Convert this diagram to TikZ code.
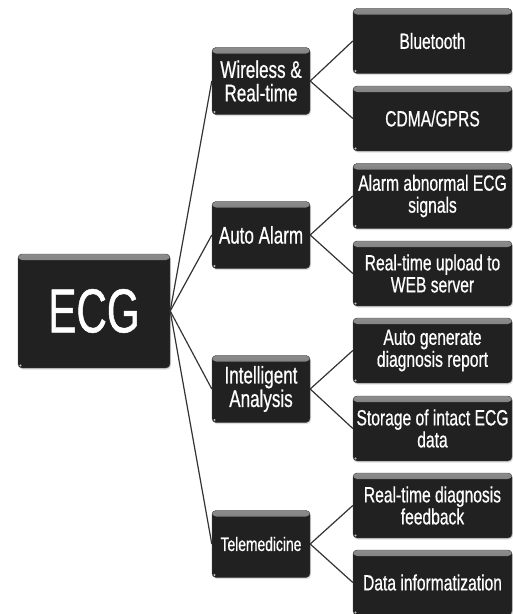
\documentclass[tikz,border=0pt]{standalone}
\usepackage{fontspec}
\setmainfont{Liberation Sans}[FakeStretch=0.71, FakeBold=0.6]
\newfontfamily\ecgfont{Liberation Sans}[FakeStretch=0.68, FakeBold=0.8]
\usetikzlibrary{shadows}
\tikzset{
  darkbox/.style={rectangle, rounded corners=4pt, fill=black!87, draw=black!70, line width=0.4pt,
    text=white!94, align=center, inner sep=1pt,
    drop shadow={opacity=0.25, shadow xshift=1pt, shadow yshift=-1.5pt},
    path picture={
      \shade[top color=black!45, bottom color=black!87]
        (path picture bounding box.north west) rectangle ([yshift=-6pt]path picture bounding box.north east);
      \fill[white!75!black] ([xshift=2.5pt,yshift=2.5pt]path picture bounding box.south west) circle (1.1pt);
    }},
  rootbox/.style={darkbox, minimum width=152pt, minimum height=114pt, font=\ecgfont\fontsize{62}{64}\selectfont},
  midbox/.style={darkbox, minimum width=98pt, minimum height=67pt, font=\fontsize{24}{23.5}\selectfont},
  leafbox/.style={darkbox, minimum width=159pt, minimum height=65pt, font=\fontsize{22}{22}\selectfont},
  link/.style={draw=black!80, line width=1.2pt}
}
\begin{document}
\begin{tikzpicture}[x=1pt, y=-1pt]
\useasboundingbox (0,0) rectangle (513,614);

\node[rootbox] (ecg) at (94,311) {ECG};

\node[midbox] (wl) at (261,81) {Wireless \&\\Real-time};
\node[midbox] (aa) at (261,235) {Auto Alarm};
\node[midbox] (ia) at (261,389) {Intelligent\\Analysis};
\node[midbox, font=\fontsize{19.5}{19}\selectfont] (tm) at (261,544) {Telemedicine};

\node[leafbox] (bt) at (432.5,41) {Bluetooth};
\node[leafbox] (cd) at (432.5,118.5) {CDMA/GPRS};
\node[leafbox] (al) at (432.5,196) {Alarm abnormal ECG\\signals};
\node[leafbox] (up) at (432.5,273.5) {Real-time upload to\\WEB server};
\node[leafbox] (ag) at (432.5,350.5) {Auto generate\\diagnosis report};
\node[leafbox] (st) at (432.5,428.5) {Storage of intact ECG\\data};
\node[leafbox] (rd) at (432.5,505.5) {Real-time diagnosis\\feedback};
\node[leafbox] (di) at (432.5,582.5) {Data informatization};

\foreach \m in {wl,aa,ia,tm} \draw[link] (ecg.east) -- (\m.west);
\draw[link] (wl.east) -- (bt.west);
\draw[link] (wl.east) -- (cd.west);
\draw[link] (aa.east) -- (al.west);
\draw[link] (aa.east) -- (up.west);
\draw[link] (ia.east) -- (ag.west);
\draw[link] (ia.east) -- (st.west);
\draw[link] (tm.east) -- (rd.west);
\draw[link] (tm.east) -- (di.west);
\end{tikzpicture}
\end{document}
